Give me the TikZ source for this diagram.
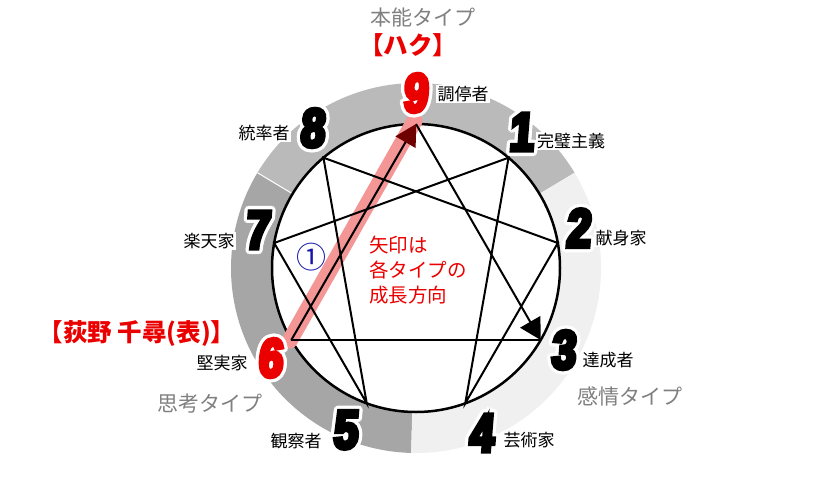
\documentclass[tikz,border=0pt]{standalone}
\usepackage{fontspec}
\usetikzlibrary{arrows.meta,calc}
\newfontfamily\cjk{Noto Sans CJK JP}
\newfontfamily\cjkh{Noto Sans CJK JP}[RawFeature=+halt]
\newfontfamily\numfont{Liberation Sans}[FakeStretch=0.8,FakeSlant=0.08,FakeBold=8]
\definecolor{myred}{RGB}{235,0,0}
\definecolor{ringtop}{RGB}{186,186,186}
\definecolor{ringleft}{RGB}{166,166,166}
\definecolor{ringright}{RGB}{240,240,240}
\definecolor{titlegray}{RGB}{128,128,128}
\definecolor{pinkband}{RGB}{244,150,150}
\definecolor{darkhead}{RGB}{110,0,0}
\definecolor{circblue}{RGB}{20,20,170}
\newcommand\halonum[4]{%
  \foreach \hang in {0,30,...,330}{\node[numst,text=white] at ($(#1)+(\hang:3.3)$) {#4};}
  \node[numst,text=#3] (#2) at (#1) {#4};}
\begin{document}
\begin{tikzpicture}[x=1pt,y=-1pt,
  numst/.style={font=\numfont\bfseries\fontsize{54}{54}\selectfont, inner sep=0pt},
  lab/.style={font=\cjk\fontsize{17}{17}\selectfont, fill=white, inner sep=1.5pt},
  ttl/.style={font=\cjk\fontsize{21}{21}\selectfont, text=titlegray, inner sep=0pt},
  redt/.style={font=\cjkh\bfseries\fontsize{24.5}{24.5}\selectfont, text=myred, inner sep=0pt},
  ln/.style={line width=2pt, black},
  tip/.style={-{Triangle[length=21pt,width=23pt]}}]
\useasboundingbox (0,0) rectangle (828,479);
\fill[white] (0,0) rectangle (828,479);
\coordinate (C) at (416,268);
% ring sectors
\fill[ringtop] ($(C)+(211:185)$) arc[start angle=211,end angle=329,radius=185]
  -- ($(C)+(329:144)$) arc[start angle=329,end angle=211,radius=144] -- cycle;
\fill[ringleft] ($(C)+(91.5:185)$) arc[start angle=91.5,end angle=211,radius=185]
  -- ($(C)+(211:144)$) arc[start angle=211,end angle=91.5,radius=144] -- cycle;
\fill[ringright] ($(C)+(-31:185)$) arc[start angle=-31,end angle=91.5,radius=185]
  -- ($(C)+(91.5:144)$) arc[start angle=91.5,end angle=-31,radius=144] -- cycle;
\draw[white,line width=1pt] ($(C)+(211:144)$) -- ($(C)+(211:185)$);
% circle
\draw[line width=2.5pt, fill=white] (C) circle[radius=144];
\foreach \k in {1,...,9} \coordinate (p\k) at ($(C)+({40*\k-90}:144)$);
% pink band
\draw[pinkband, line width=16pt, line cap=round] ($(p6)+(-1.5,0.5)$) -- ($(p9)+(-1.5,-3)$);
% lines
\draw[ln] (p1) -- (p4) -- (p2) -- (p8) -- (p5) -- (p7) -- cycle;
\draw[ln] (p3) -- (p6);
\draw[ln, tip] (p9) -- (p3);
\draw[ln, -{Triangle[length=21pt,width=23pt,color=darkhead]}] (p6) -- (p9);
% numbers
\halonum{415,93}{n9}{myred}{9}
\halonum{521,132}{n1}{black}{1}
\halonum{578,228}{n2}{black}{2}
\halonum{563,350}{n3}{black}{3}
\halonum{481,433}{n4}{black}{4}
\halonum{345,430}{n5}{black}{5}
\halonum{270,358}{n6}{myred}{6}
\halonum{257,230}{n7}{black}{7}
\halonum{312,128}{n8}{black}{8}
% labels
\node[lab] (l9) at (463,94) {調停者};
\node[lab] (l1) at (571,141) {完璧主義};
\node[lab] (l2) at (621,238) {献身家};
\node[lab] (l3) at (608,360) {達成者};
\node[lab] (l4) at (529,440) {芸術家};
\node[lab] (l5) at (296,441) {観察者};
\node[lab] (l6) at (222,363) {堅実家};
\node[lab] (l7) at (209,241) {楽天家};
\node[lab] (l8) at (264,133) {統率者};
% titles
\node[ttl] (tA) at (423,18) {本能タイプ};
\node[ttl] (tB) at (210,404) {思考タイプ};
\node[ttl] (tC) at (630,396) {感情タイプ};
\node[redt] (hk) at (408,45) {【ハク】};
\node[redt] (ch) at (137,334) {【荻野 千尋(表)】};
\node[font=\cjk\fontsize{30}{30}\selectfont, text=circblue, inner sep=0pt] (c1) at (311.5,257.5) {①};
\node[font=\cjk\fontsize{19.5}{25}\selectfont, text=myred, align=left, anchor=west, inner sep=0pt] (note) at (369,270) {矢印は\\各タイプの\\成長方向};
\end{tikzpicture}
\end{document}
